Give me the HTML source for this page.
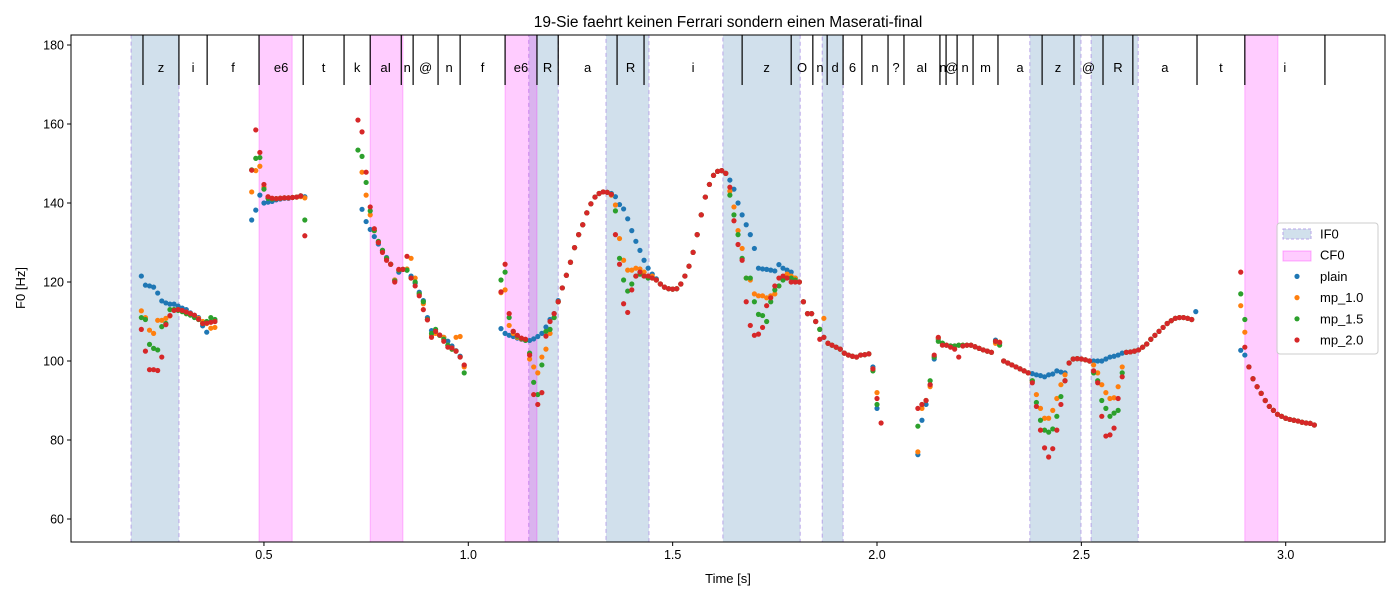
<!DOCTYPE html>
<html><head><meta charset="utf-8"><style>
body{margin:0;background:#fff}
svg text{font-family:"Liberation Sans","DejaVu Sans",sans-serif}
</style></head><body>
<svg id="chart" width="1400" height="600" xmlns="http://www.w3.org/2000/svg">
<text x="728" y="27" text-anchor="middle" font-size="15.5">19-Sie faehrt keinen Ferrari sondern einen Maserati-final</text>
<g id="plot"></g>
<text x="728" y="583" text-anchor="middle" font-size="13">Time [s]</text>
<text transform="translate(25,288) rotate(-90)" text-anchor="middle" font-size="13">F0 [Hz]</text>
</svg>
<script>
const xTicks=[0.5,1.0,1.5,2.0,2.5,3.0];
const xTickLabels=["0.5","1.0","1.5","2.0","2.5","3.0"];
const yTicks=[60,80,100,120,140,160,180];
const if0Spans=[[0.175,0.292],[1.148,1.22],[1.337,1.442],[1.623,1.812],[1.866,1.917],[2.374,2.499],[2.524,2.639]];
const cf0Spans=[[0.488,0.569],[0.76,0.84],[1.09,1.168],[2.9,2.981]];
const phoneBounds=[0.204,0.292,0.361,0.488,0.596,0.696,0.760,0.836,0.865,0.926,0.98,1.09,1.168,1.22,1.364,1.43,1.67,1.79,1.843,1.878,1.917,1.963,2.027,2.066,2.154,2.169,2.196,2.235,2.296,2.404,2.482,2.553,2.626,2.783,2.9,3.096];
const phoneLabels=["z","i","f","e6","t","k","aI","n","@","n","f","e6","R","a","R","i","z","O","n","d","6","n","?","aI","n","@","n","m","a","z","@","R","a","t","i"];
const segStarts=[0.20,0.47,0.73,1.08,2.10,2.89];
const plainVals=[
[121.5,119.2,119,118.7,117.2,115.2,114.7,114.4,114.4,113.9,113.4,113,112.2,111.6,111,108.9,107.3,109.9,110],
[135.7,138.2,142,140,140.2,140.4,140.8,141,141.2,141.2,141.4,141.5,141.8,141.6],
[null,138.4,135.3,133.3,131.5,129.6,128,126.2,124.5,120.5,122.5,123.2,123,121.5,119.7,117.4,115.3,111,107.7,107.2,106.5,106,105,103.8,102.6,101.2,98.9],
[108.2,107,106.5,106.2,105.8,105.5,105.4,105.2,105.6,106.2,107,108.6,110.5,112,115.3,118.5,121.7,125,128.7,132,134.5,137.5,139.8,141.5,142.4,142.8,142.7,142.4,141.6,139.6,138.5,136,133,130.3,128,125.5,123.5,122,120.8,119.5,118.7,118.3,118.2,118.3,119.5,121.5,124,127.5,132,137,141.5,144.7,147,148,148.2,147.5,145.8,143.5,140,137,134.5,132,128.5,123.5,123.3,123.2,123,122.8,124.4,123.5,123,122.5,121,120,115,112,112,110,108,106,104.5,104,103.5,103,102,101.5,101.2,101,101.5,101.6,101.8,98.5,88,null],
[76.3,85,89,94,100.5,105.5,104.5,104,103.8,103.8,104,104,104,104,103.6,103.2,102.8,102.5,102.2,105.3,104.5,100,99.5,99,98.5,98,97.5,97,96.8,96.5,96.3,96,96.5,96.7,97.5,97.2,97,99.5,100.5,100.6,100.5,100.3,100,100,100,100,100.5,101,101.2,101.5,102,102.2,102.3,102.5,102.8,103.5,104.3,105.5,106.5,107.5,108.5,109.5,110.2,110.8,111,111,110.8,110.5,112.5],
[102.7,101.5,98.5,95.5,93.5,91.8,90,88.5,87.5,86.5,86,85.5,85.2,85,84.8,84.5,84.3,84.2,83.8]];
const mp10Vals=[
[112.7,111,107.8,107,110.3,110.3,110.8,111.4,113,113,112.6,112,112,111.5,110.8,110,109.5,108.3,108.5],
[142.8,148.2,149.3,144,141.5,141,141.1,141.2,141.3,141.3,141.4,141.5,141.6,141.3],
[null,147.8,142,137,133,130,127.8,126,124.5,120.5,123,123.2,123.3,126,121,117,114.5,110.5,106.5,107,106.5,106,104,103,106,106.2,98.5],
[117.3,118,109,107,106,105.6,105.3,100.5,98.5,97,101,103,107,111,115,118.5,121.7,125,128.7,132,134.5,137.5,139.8,141.5,142.4,142.8,142.7,142,139.5,131,125.5,123,123,123.5,123.3,122.5,121.5,121.5,120.5,119.5,118.7,118.3,118.2,118.3,119.5,121.5,124,127.5,132,137,141.5,144.7,147,148,148.2,147.5,143,139,133,128.5,121,120.5,117,116.5,116.5,116,116.5,117,119,121,122,121.5,121,120,115,112,112,110,108,110.8,104.5,104,103.5,103,102,101.5,101.2,101,101.5,101.6,101.8,98,92,null],
[77,88,90,93.5,101,105.8,104.5,104,103.8,103.8,104,104,104,104,103.6,103.2,102.8,102.5,102.2,104.5,104.8,100,99.5,99,98.5,98,97.5,97,95,91.5,88,85.5,85.5,87.5,90.5,94,96.5,99.5,100.5,100.6,100.5,100.3,100,99,97,94,92,90.5,90.7,93.5,98.5,102.2,102.3,102.5,102.8,103.5,104.3,105.5,106.5,107.5,108.5,109.5,110.2,110.8,111,111,110.8,110.5,null],
[114,107.3,98.5,95.5,93.5,91.8,90,88.5,87.5,86.5,86,85.5,85.2,85,84.8,84.5,84.3,84.2,83.8]];
const mp15Vals=[
[111,110.5,104.2,103.2,102.8,108.7,109.5,113,113,112.8,112.5,112,111.6,111,110.5,109.5,110,111,110.5],
[148.4,151.3,151.5,143.5,141.2,141,141.1,141.2,141.3,141.3,141.4,141.5,141.8,135.7],
[153.4,151.8,145.2,138,133,130.3,128,126,124.5,120.3,123,123.2,123,121,120,117,115,110.5,107,108,106.5,105.5,104,103,102.5,101,97],
[120.5,122.5,111,107.5,106.3,105.7,105.2,102,94.6,91.5,99,107.5,108,111,115,118.5,121.7,125,128.7,132,134.5,137.5,139.8,141.5,142.4,142.8,142.7,142.2,138,126,120.5,117.7,119.5,121.5,122,121.5,121,121,120.5,119.5,118.7,118.3,118.2,118.3,119.5,121.5,124,127.5,132,137,141.5,144.7,147,148,148.2,147.5,142,137,132,126,121,121,115,111.8,111.5,110,115,118,119,120.5,121,121,120.5,120,115,112,112,110,108,106,104.5,104,103.5,103,102,101.5,101.2,101,101.5,101.6,101.8,97.5,89,null],
[83.5,89,90,95,101,105,104.5,104,103.8,103.8,104,104,104,104,103.6,103.2,102.8,102.5,102.2,105,104,100,99.5,99,98.5,98,97.5,97,95,89.5,85,82.5,82,82.8,86,91,95,99.5,100.5,100.6,100.5,100.3,100,97,95,90,88,86,86.8,87.5,97,102.2,102.3,102.5,102.8,103.5,104.3,105.5,106.5,107.5,108.5,109.5,110.2,110.8,111,111,110.8,110.5,null],
[117,110.5,98.5,95.5,93.5,91.8,90,88.5,87.5,86.5,86,85.5,85.2,85,84.8,84.5,84.3,84.2,83.8]];
const mp20Vals=[
[108,102.5,97.8,97.8,97.6,101,109.2,111.5,112.8,113,112.8,112.4,112,111.6,110.6,109.5,109.6,109.8,110],
[148.3,158.5,152.8,144.7,141.6,141.2,141.1,141.2,141.3,141.3,141.4,141.5,141.8,131.7],
[161,158,147.8,139,133.5,130,127.5,125.5,124.5,120,123.2,123.2,126.5,121,119,116.5,113,110.4,106,107.5,106.6,105,103.5,103.3,102.5,101,99],
[117.5,124.5,112,107.5,106.5,105.8,105.5,101.5,91.5,89,92,106.3,110,112,115,118.5,121.7,125,128.7,132,134.5,137.5,139.8,141.5,142.4,142.8,142.7,142.2,132,124.5,114.5,112.3,118,121.5,122.5,121.5,121.5,121,120.5,119.5,118.7,118.3,118.2,118.3,119.5,121.5,124,127.5,132,137,141.5,144.7,147,148,148.2,147.5,144,135.5,129.5,125.5,115,109,106.5,106.8,108.5,114,116,119,121,121.5,121,120,120,120,115,112,112,110,105.5,106,104.5,104,103.5,103,102,101.5,101.2,101,101.5,101.6,101.8,98,90.5,84.3],
[88,89,90,94,101.5,106,104,104,103.5,103,101,103.8,104,104,103.6,103.2,102.8,102.5,102.2,105,104.7,100,99.5,99,98.5,98,97.5,97,94.5,88.5,82.5,78,75.7,77.8,82.5,89,95,99.5,100.5,100.6,100.5,100.3,100,97.5,94.5,86,81,81.3,83,90.5,96,102.2,102.3,102.5,102.8,103.5,104.3,105.5,106.5,107.5,108.5,109.5,110.2,110.8,111,111,110.8,110.5,null],
[122.5,103.5,98.5,95.5,93.5,91.8,90,88.5,87.5,86.5,86,85.5,85.2,85,84.8,84.5,84.3,84.2,83.8]];
const seriesNames=["plain","mp_1.0","mp_1.5","mp_2.0"];
const seriesColors=["#1f77b4","#ff7f0e","#2ca02c","#d62728"];
const allSeries=[plainVals,mp10Vals,mp15Vals,mp20Vals];

const L=71,R=1385,T=35,B=542;
const xs=t=>59.6+t*408.7;
const ys=f=>45+(180-f)*3.95;
const NS="http://www.w3.org/2000/svg";
const plot=document.getElementById('plot');
function mk(tag,attrs,parent){const e=document.createElementNS(NS,tag);for(const k in attrs)e.setAttribute(k,attrs[k]);(parent||plot).appendChild(e);return e;}

if0Spans.forEach(s=>{
  const r=mk('rect',{x:xs(s[0]),y:T,width:xs(s[1])-xs(s[0]),height:B-T,fill:'rgba(70,130,180,0.25)',stroke:'#b9a6e8','stroke-dasharray':'4,3','stroke-width':1});
  
  
});
cf0Spans.forEach(s=>{
  const r=mk('rect',{x:xs(s[0]),y:T,width:xs(s[1])-xs(s[0]),height:B-T,fill:'rgba(255,0,255,0.2)',stroke:'rgba(255,0,255,0.25)','stroke-width':1});
  
  
});
phoneBounds.forEach(t=>{
  const l=mk('line',{x1:xs(t),x2:xs(t),y1:T,y2:85,stroke:'#000','stroke-width':1.2});
  
  
});
phoneLabels.forEach((p,i)=>{
  const tx=mk('text',{x:(xs(phoneBounds[i])+xs(phoneBounds[i+1]))/2,y:72,'text-anchor':'middle','font-size':13});
  tx.textContent=p;
  
  
});
allSeries.forEach((ser,si)=>{
  ser.forEach((vals,gi)=>{
    vals.forEach((v,i)=>{
      if(v===null)return;
      const c=mk('circle',{cx:xs(segStarts[gi]+i*0.01),cy:ys(v),r:2.6,fill:seriesColors[si]});
      
      
    });
  });
});
const frame=mk('rect',{x:L,y:T,width:R-L,height:B-T,fill:'none',stroke:'#000','stroke-width':1});


xTicks.forEach((t,i)=>{
  mk('line',{x1:xs(t),x2:xs(t),y1:B,y2:B+4,stroke:'#000'});
  const tx=mk('text',{x:xs(t),y:B+17,'text-anchor':'middle','font-size':12.5});
  tx.textContent=xTickLabels[i];
  
  
});
yTicks.forEach(v=>{
  mk('line',{x1:L-4,x2:L,y1:ys(v),y2:ys(v),stroke:'#000'});
  const tx=mk('text',{x:L-7,y:ys(v)+4.5,'text-anchor':'end','font-size':12.5});
  tx.textContent=v;
  
  
});
// legend
const lg=mk('g',{});


mk('rect',{x:1277,y:223,width:101,height:131,rx:3,fill:'rgba(255,255,255,0.85)',stroke:'#ccc'},lg);
const l1=mk('rect',{x:1283,y:229,width:28,height:10,fill:'rgba(70,130,180,0.25)',stroke:'#b9a6e8','stroke-dasharray':'3,2'},lg);


const l2=mk('rect',{x:1283,y:251,width:28,height:10,fill:'rgba(255,0,255,0.2)',stroke:'rgba(255,0,255,0.3)'},lg);


const legendTexts=["IF0","CF0"].concat(seriesNames);
legendTexts.forEach((s,i)=>{
  const y=234+i*21.2;
  if(i>=2){
    const c=mk('circle',{cx:1297,cy:y,r:2.6,fill:seriesColors[i-2]},lg);
    
    
  }
  const tx=mk('text',{x:1320,y:y+4.5,'font-size':13},lg);
  tx.textContent=s;
  
  
});
</script>
</body></html>
